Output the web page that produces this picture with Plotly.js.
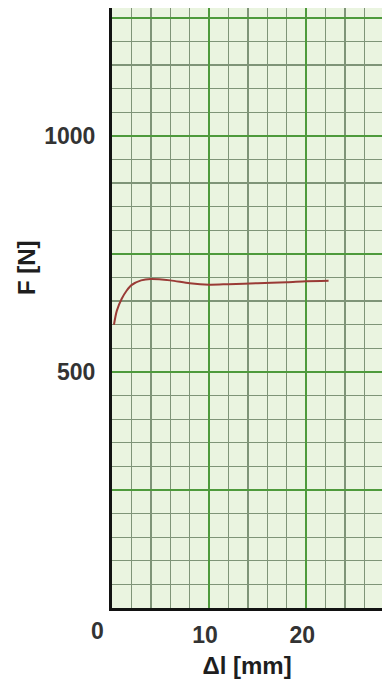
<!DOCTYPE html>
<html>
<head>
<meta charset="utf-8">
<script src="https://cdn.plot.ly/plotly-3.0.1.min.js"></script>
<style>html,body{margin:0;padding:0;background:#fff;}#chart{width:382px;height:681px;}</style>
</head>
<body>
<div id="chart"></div>
<script>
// Data
const elongationMm = [0.2, 0.5, 1.0, 1.5, 2.0, 3.0, 4.0, 6.0, 8.0, 10.0, 12.0, 15.0, 18.0, 20.0, 22.3];
const forceN       = [600, 630, 655, 672, 684, 694, 697, 694, 688, 685, 686, 688, 690, 692, 693];

const xTickVals = [0, 10, 20];
const xTickText = ['', '10', '20'];
const yTickVals = [0, 250, 500, 750, 1000, 1250];
const yTickText = ['', '', '500', '', '1000', ''];
const originLabel = '0';
const xTitle = 'Δl [mm]';
const yTitle = 'F [N]';

const tickFont = {family: 'Liberation Sans, Arial, sans-serif', size: 23, color: '#333333', weight: 'bold'};
const titleFont = {family: 'Liberation Sans, Arial, sans-serif', size: 24, color: '#1e1e1e', weight: 'bold'};

const trace = {
  x: elongationMm,
  y: forceN,
  type: 'scatter',
  mode: 'lines',
  line: {color: '#9a3b36', width: 2, shape: 'spline', smoothing: 0.8},
  hoverinfo: 'skip'
};

const layout = {
  width: 382,
  height: 681,
  margin: {l: 112, r: 0, t: 8, b: 73, pad: 0},
  paper_bgcolor: '#ffffff',
  plot_bgcolor: '#eaf4e0',
  showlegend: false,
  xaxis: {
    range: [0, 27.8],
    tickmode: 'array',
    tickvals: xTickVals,
    ticktext: xTickText,
    ticks: '',
    tickfont: tickFont,
    ticklabelstandoff: 4,
    ticklabelshift: -4,
    showgrid: true,
    gridcolor: '#4e9a3c',
    gridwidth: 2,
    zeroline: false,
    showline: true,
    linecolor: '#121212',
    linewidth: 3,
    minor: {dtick: 2, tick0: 0, showgrid: true, gridcolor: '#7f9478', gridwidth: 1.3, ticks: ''},
    title: {text: xTitle, font: titleFont, standoff: 11},
    fixedrange: true
  },
  yaxis: {
    range: [0, 1271],
    tickmode: 'array',
    tickvals: yTickVals,
    ticktext: yTickText,
    ticks: '',
    tickfont: tickFont,
    ticklabelstandoff: 9,
    showgrid: true,
    gridcolor: '#4e9a3c',
    gridwidth: 2,
    zeroline: false,
    showline: true,
    linecolor: '#121212',
    linewidth: 3,
    minor: {dtick: 50, tick0: 0, showgrid: true, gridcolor: '#7f9478', gridwidth: 1.3, ticks: ''},
    fixedrange: true
  },
  annotations: [{
    text: originLabel,
    x: 0, y: 0, xref: 'x', yref: 'y',
    xanchor: 'center', yanchor: 'top',
    xshift: -15, yshift: -8,
    showarrow: false,
    font: tickFont
  }, {
    text: yTitle,
    x: 0, xref: 'paper', xshift: -86,
    y: 720, yref: 'y',
    xanchor: 'center', yanchor: 'middle',
    textangle: -90,
    showarrow: false,
    font: titleFont
  }]
};

Plotly.newPlot('chart', [trace], layout, {staticPlot: true, displayModeBar: false});
</script>
</body>
</html>
